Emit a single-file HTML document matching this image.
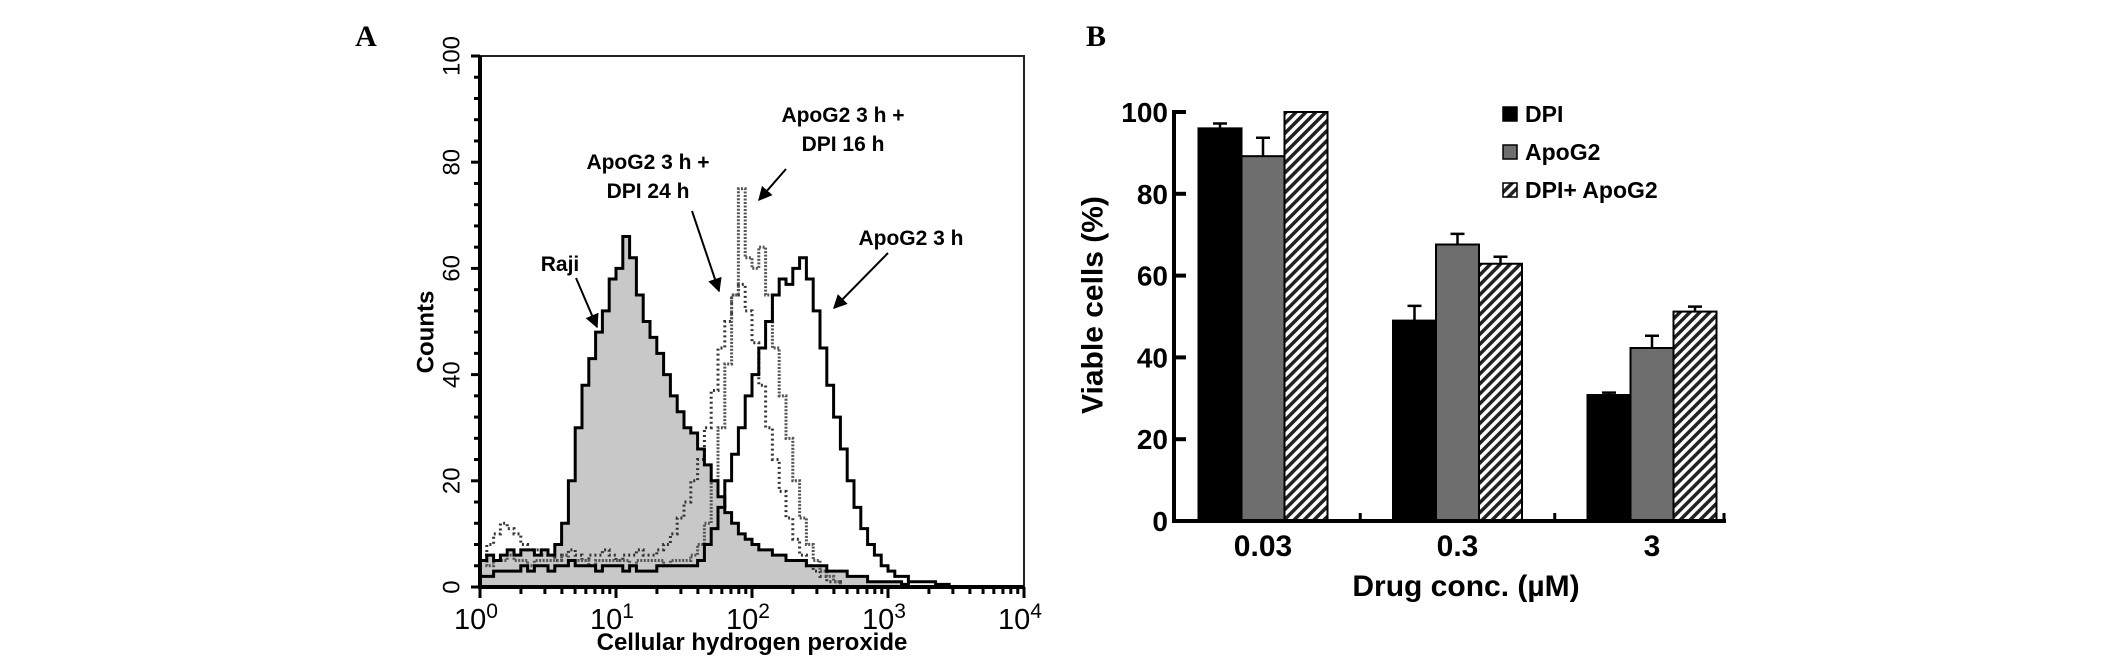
<!DOCTYPE html>
<html><head><meta charset="utf-8">
<style>
html,body{margin:0;padding:0;background:#fff;}
svg{display:block;}
text{font-family:"Liberation Sans",Arial,sans-serif;}
</style></head>
<body>
<svg id="fig" width="2126" height="662" viewBox="0 0 2126 662" xmlns="http://www.w3.org/2000/svg">
<defs>
<pattern id="hatch" patternUnits="userSpaceOnUse" width="7" height="7" patternTransform="rotate(45)">
<rect width="7" height="7" fill="#fff"/>
<rect width="3.5" height="7" fill="#222"/>
</pattern>
<marker id="arr" viewBox="0 0 10 10" refX="9" refY="5" markerWidth="7" markerHeight="7" orient="auto">
<path d="M0,0 L10,5 L0,10 z" fill="#000"/>
</marker>
</defs>
<text x="366" y="46" font-weight="bold" font-size="30" text-anchor="middle" style="font-family:'Liberation Serif',serif">A</text>
<text x="1096" y="46" font-weight="bold" font-size="30" text-anchor="middle" style="font-family:'Liberation Serif',serif">B</text>
<g id="pa"></g>
<g id="pb"></g>
</svg>
<script>
// ---------- Panel A data (log10 bins 0..4 step 0.05) ----------
const binStep = 0.05;
const rajiCounts = [5,6,5,6,7,6,7,7,6,7, 6,8,12,20,30,38,43,48,52,58, 60,66,62,55,50,47,44,40,36,33, 30,29,26,23,20,17,14,12,10,9, 8,7,7,6,6,5,5,5,4,4, 4,3,3,3,2,2,2,1,1,1, 1,1,0.5, 0,0,0,0,0,0,0,0,0,0,0,0,0,0,0,0,0,0];
const apo3hCounts = [2,2,3,3,3,3,4,3,4,4, 3,4,4,5,4,4,4,3,4,4, 4,3,4,3,3,3,4,4,4,4, 4,4, 5,8,11,15,20,25,30,36,40,45,50,55,58,57,60,62,58,52,45,38,32,26,20,15,11,8,6,4,3,2,2,1,1,1,1,0.5,0.5, 0,0,0,0,0,0,0,0,0,0,0,0];
const dpi24Counts = [6,8,10,12,11,10,8,7,7,6, 6,5,6,7,6,5,6,6,7,6,5,6,6,7,6,6,7, 8,10,13,16,20,24,30,37,45,50,55,57,52,46,38,30,24,18,13,9,6,4,3,2,1,1, 0,0,0,0,0,0,0,0,0,0,0,0,0,0,0,0,0,0,0,0,0,0,0,0,0,0,0,0];
const dpi16Counts = [5,4,5,5,6,5,5,4,5,5, 5,5,6,5,5,5,4,5,5,5, 5,5,4,5,5,5,5,4,5,5, 5,6, 8,12,20,30,42,55,75,62,60,64,55,45,36,28,20,13,8,5,3,2,1, 0,0,0,0,0,0,0,0,0,0,0,0,0,0,0,0,0,0,0,0,0,0,0,0,0,0,0,0];
const countTicks = [0,20,40,60,80,100];
const decadeTicks = [0,1,2,3,4];

// ---------- Panel B data ----------
const concCategories = ["0.03","0.3","3"];
const seriesNames = ["DPI","ApoG2","DPI+ ApoG2"];
const dpiValues = [96,49,30.8];
const apoValues = [89.2,67.6,42.3];
const comboValues = [100,62.9,51.2];
const dpiErr = [1.2,3.6,0.6];
const apoErr = [4.5,2.6,3];
const comboErr = [0,1.7,1.2];
const viableTicks = [0,20,40,60,80,100];

const NS="http://www.w3.org/2000/svg";
function mk(parent,tag,attrs,txt){const e=document.createElementNS(NS,tag);for(const k in attrs)e.setAttribute(k,attrs[k]);if(txt!==undefined)e.textContent=txt;parent.appendChild(e);return e;}

// ----- Panel A -----
const pa=document.getElementById('pa');
const AL=480,AR=1024,AT=56,AB=587;
const ax=v=>AL+(v/4)*(AR-AL);
const ay=v=>AB-(v/100)*(AB-AT);
function stepPath(counts){let d='M'+ax(0)+','+ay(counts[0]);for(let i=0;i<counts.length;i++){const x0=ax(i*binStep),x1=ax(Math.min((i+1)*binStep,4));d+=' L'+x0+','+ay(counts[i])+' L'+x1+','+ay(counts[i]);}return d;}
let fill=mk(pa,'path',{d:stepPath(rajiCounts)+' L'+AR+','+AB+' L'+AL+','+AB+' Z',fill:'#c8c8c8',stroke:'none'});


let s1=mk(pa,'path',{d:stepPath(dpi24Counts),fill:'none',stroke:'#333','stroke-width':3,'stroke-dasharray':'2 3'});


let s2=mk(pa,'path',{d:stepPath(dpi16Counts),fill:'none',stroke:'#555','stroke-width':3,'stroke-dasharray':'2 1.5'});


let s3=mk(pa,'path',{d:stepPath(rajiCounts),fill:'none',stroke:'#000','stroke-width':3});


let s4=mk(pa,'path',{d:stepPath(apo3hCounts),fill:'none',stroke:'#000','stroke-width':3});


let box=mk(pa,'rect',{x:AL,y:AT,width:AR-AL,height:AB-AT,fill:'none',stroke:'#222','stroke-width':2});


mk(pa,'line',{x1:AL,y1:AT,x2:AL,y2:AB+2,stroke:'#000','stroke-width':4});
mk(pa,'line',{x1:AL-2,y1:AB,x2:AR,y2:AB,stroke:'#000','stroke-width':4});
for(let v=0;v<=100;v+=4){mk(pa,'line',{x1:AL-(v%20===0?9:6),y1:ay(v),x2:AL,y2:ay(v),stroke:'#000','stroke-width':3});}
countTicks.forEach(v=>{const t=mk(pa,'text',{x:452,y:ay(v),'font-size':24,'text-anchor':'middle','dominant-baseline':'central',transform:'rotate(-90 452 '+ay(v)+')'},v);

});
for(let d=0;d<4;d++){for(let m=2;m<=9;m++){const x=ax(d+Math.log10(m));mk(pa,'line',{x1:x,y1:AB,x2:x,y2:AB+7,stroke:'#000','stroke-width':3});}}
decadeTicks.forEach(d=>{mk(pa,'line',{x1:ax(d),y1:AB,x2:ax(d),y2:AB+11,stroke:'#000','stroke-width':3});
const t=mk(pa,'text',{x:ax(d)-4,y:629,'font-size':29,'text-anchor':'middle'});t.textContent='10';
mk(t,'tspan',{dy:-11,'font-size':21},String(d));

});
let xt=mk(pa,'text',{x:752,y:650,'font-size':24,'font-weight':'bold','text-anchor':'middle'},'Cellular hydrogen peroxide');


let yt=mk(pa,'text',{x:426,y:332,'font-size':24,'font-weight':'bold','text-anchor':'middle','dominant-baseline':'central',transform:'rotate(-90 426 332)'},'Counts');


const ann=[
 {lines:['ApoG2 3 h +','DPI 16 h'],x:843,y:122,a:[786,169,759,200],n:'annotation-dpi16h'},
 {lines:['ApoG2 3 h +','DPI  24 h'],x:648,y:169,a:[692,211,719,291],n:'annotation-dpi24h'},
 {lines:['Raji'],x:560,y:271,a:[576,278,597,327],n:'annotation-raji'},
 {lines:['ApoG2 3 h'],x:911,y:245,a:[888,253,834,308],n:'annotation-apog2-3h'}];
ann.forEach(o=>{const g=mk(pa,'g',{});


o.lines.forEach((l,i)=>mk(g,'text',{x:o.x,y:o.y+i*29,'font-size':21,'font-weight':'bold','text-anchor':'middle','xml:space':'preserve'},l));
mk(g,'line',{x1:o.a[0],y1:o.a[1],x2:o.a[2],y2:o.a[3],stroke:'#000','stroke-width':2,'marker-end':'url(#arr)'});});

// ----- Panel B -----
const pb=document.getElementById('pb');
const BL=1174,BR=1726,BT=112,BB=521;
const by=v=>BB-(v/100)*(BB-BT);
const groupCenter=i=>1263+i*194.5;
const barW=43;
const fills=['#000','#6e6e6e','url(#hatch)'];
const allVals=[dpiValues,apoValues,comboValues];
const allErr=[dpiErr,apoErr,comboErr];
concCategories.forEach((c,i)=>{
 for(let s=0;s<3;s++){
  const x=groupCenter(i)-1.5*barW+s*barW, v=allVals[s][i], e=allErr[s][i];
  const r=mk(pb,'rect',{x:x,y:by(v),width:barW,height:BB-by(v),fill:fills[s],stroke:'#000','stroke-width':2});
  
  
  if(e>0){const cx=x+barW/2;
   const eb=mk(pb,'path',{d:'M'+cx+','+by(v)+' L'+cx+','+by(v+e)+' M'+(cx-7)+','+by(v+e)+' L'+(cx+7)+','+by(v+e),stroke:'#000','stroke-width':2.5,fill:'none'});
   
   }
 }
 const t=mk(pb,'text',{x:groupCenter(i),y:556,'font-size':30,'font-weight':'bold','text-anchor':'middle'},c);
 
 
});
mk(pb,'line',{x1:BL,y1:BT-2,x2:BL,y2:BB+2,stroke:'#000','stroke-width':4});
mk(pb,'line',{x1:BL,y1:BB,x2:BR,y2:BB,stroke:'#000','stroke-width':4});
[(groupCenter(0)+groupCenter(1))/2,(groupCenter(1)+groupCenter(2))/2,BR-2].forEach(x=>mk(pb,'line',{x1:x,y1:BB,x2:x,y2:BB-8,stroke:'#000','stroke-width':3}));
viableTicks.forEach(v=>{mk(pb,'line',{x1:BL,y1:by(v),x2:BL+12,y2:by(v),stroke:'#000','stroke-width':4});
 const t=mk(pb,'text',{x:1168,y:by(v)+10,'font-size':28,'font-weight':'bold','text-anchor':'end'},v);
 
 });
let byt=mk(pb,'text',{x:1093,y:305,'font-size':30,'font-weight':'bold','text-anchor':'middle','dominant-baseline':'central',transform:'rotate(-90 1093 305)'},'Viable cells (%)');


let bxt=mk(pb,'text',{x:1466,y:596,'font-size':30,'font-weight':'bold','text-anchor':'middle'},'Drug conc. (µM)');


seriesNames.forEach((n,i)=>{const g=mk(pb,'g',{});
 
 
 const yc=114+i*38;
 mk(g,'rect',{x:1503,y:yc-7,width:14,height:14,fill:fills[i],stroke:'#000','stroke-width':1.5});
 mk(g,'text',{x:1525,y:yc+8,'font-size':23,'font-weight':'bold'},n);});
</script>
</body></html>
